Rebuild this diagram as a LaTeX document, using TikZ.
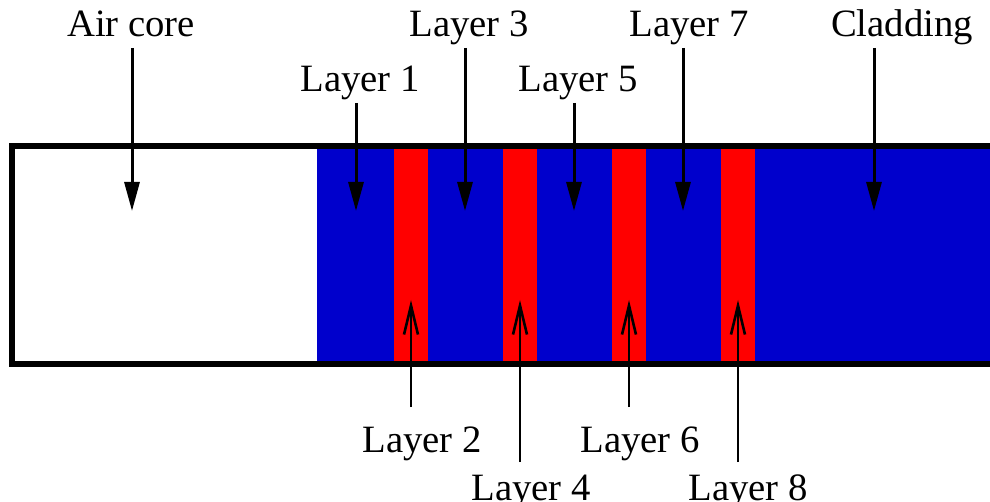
\documentclass[tikz,border=0pt]{standalone}
\usepackage{fontspec}
\setmainfont{Liberation Serif}
\usetikzlibrary{arrows.meta}
\definecolor{layblue}{RGB}{0,0,204}
\definecolor{layred}{RGB}{255,0,0}
\begin{document}
\begin{tikzpicture}[x=1pt,y=-1pt,
  lab/.style={font=\fontsize{38.7}{46}\selectfont, anchor=base, inner sep=0pt},
  downarr/.style={line width=3pt, -{Triangle[length=29pt,width=15pt]}},
  uparr/.style={line width=2.6pt, -{Straight Barb[length=29pt,width=14pt]}},
  redstrip/.style={fill=layred, draw=none},
]
\useasboundingbox (0,0) rectangle (990,502);
\clip (0,0) rectangle (990,502);
% regions
\fill[white] (12,146) rectangle (317,364);
\fill[layblue] (317,146) rectangle (1000,364);
\foreach \x in {394,503,612,721}{
  \fill[redstrip] (\x,146) rectangle ({\x+34},364);
}
\draw[line width=6pt] (1010,146) -- (12,146) -- (12,364) -- (1010,364);

% labels
\node[lab] (aircore) at (131,37) {Air core};
\node[lab] (l3) at (469,37) {Layer 3};
\node[lab] (l7) at (689,37) {Layer 7};
\node[lab] (clad) at (902,37) {Cladding};
\node[lab] (l1) at (360,92) {Layer 1};
\node[lab] (l5) at (578,92) {Layer 5};
\node[lab] (l2) at (422,452) {Layer 2};
\node[lab] (l6) at (640,452) {Layer 6};
\node[lab] (l4) at (531,500) {Layer 4};
\node[lab] (l8) at (748,500) {Layer 8};

% arrow endpoints
\coordinate (acS) at (132,48);  \coordinate (acE) at (132,211);
\coordinate (l1S) at (356,103); \coordinate (l1E) at (356,211);
\coordinate (l3S) at (465,48);  \coordinate (l3E) at (465,211);
\coordinate (l5S) at (574,103); \coordinate (l5E) at (574,211);
\coordinate (l7S) at (683,48);  \coordinate (l7E) at (683,211);
\coordinate (clS) at (874,48);  \coordinate (clE) at (874,211);
\coordinate (l2S) at (411,407); \coordinate (l2E) at (411,300);
\coordinate (l4S) at (520,462); \coordinate (l4E) at (520,300);
\coordinate (l6S) at (629,407); \coordinate (l6E) at (629,300);
\coordinate (l8S) at (738,462); \coordinate (l8E) at (738,300);

\draw[downarr] (acS) -- (acE);
\draw[downarr] (l1S) -- (l1E);
\draw[downarr] (l3S) -- (l3E);
\draw[downarr] (l5S) -- (l5E);
\draw[downarr] (l7S) -- (l7E);
\draw[downarr] (clS) -- (clE);
\draw[uparr] (l2S) -- (l2E);
\draw[uparr] (l4S) -- (l4E);
\draw[uparr] (l6S) -- (l6E);
\draw[uparr] (l8S) -- (l8E);
\end{tikzpicture}
\end{document}
